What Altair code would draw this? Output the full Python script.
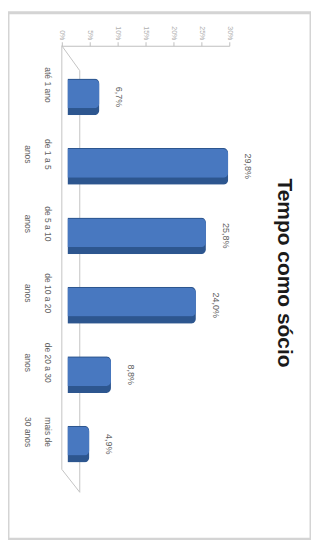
import altair as alt
import pandas as pd

title = "Tempo como sócio"
categories = ["até 1 ano", "de 1 a 5|anos", "de 5 a 10|anos", "de 10 a 20|anos",
              "de 20 a 30|anos", "mais de|30 anos"]
values = [6.7, 29.8, 25.8, 24.0, 8.8, 4.9]
axis_ticks = [0, 5, 10, 15, 20, 25, 30]

df = pd.DataFrame({"cat": categories, "v": values})
df["lbl"] = [f"{v:.1f}%".replace(".", ",") for v in values]

yenc = alt.Y("cat:N", sort=categories,
             scale=alt.Scale(range=[31, 486], paddingInner=0.47, paddingOuter=0.5),
             axis=alt.Axis(orient="left", offset=-54, labelAngle=90,
                           labelExpr="split(datum.value, '|')",
                           labelAlign="center", labelBaseline="top",
                           labelOffset=-12, labelPadding=10, labelLineHeight=20,
                           labelColor="#5f5f5f", labelFontSize=8.5,
                           domain=False, ticks=False,
                           title=None))
xenc = alt.X("v:Q", scale=alt.Scale(domain=[0, 30], range=[54, 222], nice=False),
             axis=alt.Axis(orient="top", offset=-33, values=axis_ticks, labelAngle=90,
                           labelExpr="datum.value + '%'", labelAlign="right",
                           labelBaseline="middle", grid=False,
                           labelColor="#b0b0b0", labelFontSize=7,
                           domainColor="#c0c0c0", tickColor="#c0c0c0", tickSize=4,
                           title=None))

base = alt.Chart(df)
dark = base.mark_bar(color="#2D568F", xOffset=6, cornerRadiusEnd=5).encode(x=xenc, y=yenc)
light = base.mark_bar(color="#4878C0", xOffset=6, x2Offset=-4, yOffset=-3,
                      height={"band": 0.78}, cornerRadiusEnd=5).encode(
    x="v:Q", y=alt.Y("cat:N", sort=categories))
labels = base.mark_text(angle=90, align="center", baseline="bottom", dy=-9, xOffset=6,
                        fontSize=9, color="#5f5f5f").encode(
    x="v:Q", y=alt.Y("cat:N", sort=categories), text="lbl:N")

# 3-D wall / floor outline (decoration)
one = alt.Chart(pd.DataFrame({"k": [0]}))
def edge(x1, y1, x2, y2):
    return one.mark_rule(color="#c4c4c4", strokeWidth=1).encode(
        x=alt.value(x1), y=alt.value(y1), x2=alt.value(x2), y2=alt.value(y2))
walls = [edge(54, 33, 54, 458), edge(54, 33, 72, 58),
         edge(54, 458, 72, 481), edge(72, 58, 72, 481)]

ttl = alt.Chart(pd.DataFrame({"t": [title]})).mark_text(
    angle=90, align="center", baseline="middle", fontSize=21, fontWeight="bold",
    font="Liberation Sans", color="#1a1a1a").encode(
    x=alt.value(277), y=alt.value(261), text="t:N")

chart = alt.layer(*walls, dark, light, labels, ttl).properties(
    width=304, height=528,
    autosize=alt.AutoSizeParams(type="none"),
    padding={"left": 0, "top": 4, "right": 0, "bottom": 0},
    background="white",
).configure_view(stroke="#d4d4d4", strokeWidth=3).configure_text(
    font="Liberation Sans").configure_axis(labelFont="Liberation Sans")

chart.save("out.html", embed_options={"renderer": "svg", "actions": False})
